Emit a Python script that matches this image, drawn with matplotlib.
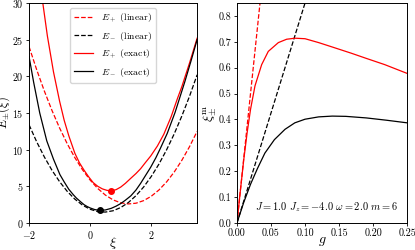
import numpy as np
import matplotlib
matplotlib.use('Agg')
import matplotlib.pyplot as plt

plt.rcParams['font.family'] = 'serif'
plt.rcParams['font.serif'] = ['cmr10', 'DejaVu Serif']
plt.rcParams['mathtext.fontset'] = 'cm'
plt.rcParams['axes.formatter.use_mathtext'] = True

# 左: E±(ξ)
xi_lin = [-2.0, -1.75, -1.5, -1.25, -1.0, -0.75, -0.5, -0.25, 0.0, 0.25, 0.5,
          0.75, 1.0, 1.25, 1.5, 1.75, 2.0, 2.25, 2.5, 2.75, 3.0, 3.25, 3.5]
Ep_lin = [24.05, 20.90, 18.00, 15.35, 12.95, 10.80, 8.90, 7.25, 5.85, 4.70, 3.80,
          3.15, 2.75, 2.60, 2.70, 3.05, 3.65, 4.50, 5.60, 6.95, 8.55, 10.40, 12.50]
Em_lin = [13.39, 11.07, 9.01, 7.19, 5.63, 4.31, 3.25, 2.43, 1.87, 1.55, 1.49,
          1.67, 2.11, 2.79, 3.73, 4.91, 6.35, 8.03, 9.97, 12.15, 14.59, 17.27, 20.21]

xi_p = [-1.55, -1.4, -1.2, -1.0, -0.85, -0.7, -0.5, -0.35, -0.2, -0.05, 0.1, 0.25,
        0.4, 0.55, 0.69, 0.85, 1.0, 1.15, 1.33, 1.5, 1.65, 1.8, 1.98, 2.2, 2.41,
        2.65, 2.85, 3.0, 3.25, 3.5]
Ep_ex = [30.0, 25.5, 20.6, 16.6, 14.0, 11.9, 9.5, 8.2, 7.2, 6.3, 5.5, 5.0,
         4.65, 4.45, 4.38, 4.55, 4.9, 5.4, 6.1, 6.75, 7.4, 8.2, 9.13, 10.5, 12.1,
         14.5, 16.9, 18.6, 21.8, 25.2]

xi_m = [-2.0, -1.85, -1.65, -1.42, -1.2, -0.99, -0.85, -0.7, -0.55, -0.45, -0.3,
        -0.2, -0.1, 0.0, 0.15, 0.31, 0.5, 0.69, 0.85, 1.0, 1.15, 1.33, 1.5, 1.65,
        1.8, 1.98, 2.15, 2.3, 2.52, 2.78, 3.1, 3.3, 3.5]
Em_ex = [22.7, 19.2, 15.0, 11.2, 8.7, 6.6, 5.6, 4.6, 3.85, 3.4, 2.85,
         2.5, 2.25, 2.05, 1.83, 1.72, 1.78, 2.0, 2.3, 2.65, 3.1, 3.7, 4.5, 5.4,
         6.4, 7.6, 8.9, 10.2, 12.2, 15.1, 19.3, 22.1, 25.0]

min_p = (0.69, 4.38)
min_m = (0.31, 1.72)

# 右: ξ^m_±(g)
g_lin = [0.0, 0.04]
xp_lin = [0.0, 1.004]
g_lin_m = [0.0, 0.11]
xm_lin = [0.0, 0.935]

g_p = [0.0, 0.005, 0.01, 0.015, 0.02, 0.0265, 0.0363, 0.046, 0.0608, 0.073, 0.0853,
       0.1, 0.12, 0.14, 0.168, 0.19, 0.217, 0.25]
xp_ex = [0.0, 0.125, 0.245, 0.35, 0.44, 0.53, 0.612, 0.663, 0.697, 0.71, 0.714,
         0.712, 0.697, 0.68, 0.656, 0.636, 0.612, 0.578]

g_m = [0.0, 0.01, 0.02, 0.03, 0.041, 0.055, 0.0706, 0.085, 0.1, 0.12, 0.14,
       0.16, 0.19, 0.22, 0.25]
xm_ex = [0.0, 0.08, 0.15, 0.21, 0.27, 0.322, 0.362, 0.387, 0.401, 0.41, 0.413,
         0.412, 0.406, 0.397, 0.387]

params = r'$J=1.0$ $J_z=-4.0$ $\omega=2.0$ $m=6$'

fig = plt.figure(figsize=(4.15, 2.5), dpi=100)
ax1 = fig.add_axes([0.07, 0.108, 0.405, 0.88])
ax2 = fig.add_axes([0.571, 0.108, 0.41, 0.88])

lw = 0.9
ax1.plot(xi_lin, Ep_lin, 'r--', lw=lw, label=r'$E_+$ (linear)')
ax1.plot(xi_lin, Em_lin, 'k--', lw=lw, label=r'$E_-$ (linear)')
ax1.plot(xi_p, Ep_ex, 'r-', lw=lw, label=r'$E_+$ (exact)')
ax1.plot(xi_m, Em_ex, 'k-', lw=lw, label=r'$E_-$ (exact)')
ax1.plot(*min_p, 'ro', ms=4)
ax1.plot(*min_m, 'ko', ms=4)
ax1.set_xlim(-2, 3.5)
ax1.set_ylim(0, 30)
ax1.set_xticks([-2, 0, 2])
ax1.set_yticks([0, 5, 10, 15, 20, 25, 30])
ax1.set_xlabel(r'$\xi$', fontsize=10)
ax1.set_ylabel(r'$E_{\pm}(\xi)$', fontsize=9)
ax1.xaxis.set_label_coords(0.5, -0.055)
ax1.yaxis.set_label_coords(-0.1, 0.5)
ax1.legend(loc='upper center', fontsize=7)

ax2.plot(g_lin, xp_lin, 'r--', lw=lw)
ax2.plot(g_lin_m, xm_lin, 'k--', lw=lw)
ax2.plot(g_p, xp_ex, 'r-', lw=lw)
ax2.plot(g_m, xm_ex, 'k-', lw=lw)
ax2.set_xlim(0, 0.25)
ax2.set_ylim(0, 0.85)
ax2.set_xticks([0, 0.05, 0.1, 0.15, 0.2, 0.25])
ax2.set_yticks([0, 0.1, 0.2, 0.3, 0.4, 0.5, 0.6, 0.7, 0.8])
ax2.xaxis.set_major_formatter(matplotlib.ticker.FormatStrFormatter('%.2f'))
ax2.yaxis.set_major_formatter(matplotlib.ticker.FormatStrFormatter('%.1f'))
ax2.set_xlabel(r'$g$', fontsize=10)
ax2.set_ylabel(r'$\xi^{\rm m}_{\pm}$', fontsize=10)
ax2.xaxis.set_label_coords(0.5, -0.055)
ax2.yaxis.set_label_coords(-0.105, 0.5)
ax2.text(0.947, 0.072, params, transform=ax2.transAxes, ha='right', va='center', fontsize=7.5)

for ax in (ax1, ax2):
    ax.tick_params(labelsize=7.2, length=2.5, width=0.6, pad=1.5)
    for s in ax.spines.values():
        s.set_linewidth(0.7)

fig.savefig('out.png', dpi=100)
